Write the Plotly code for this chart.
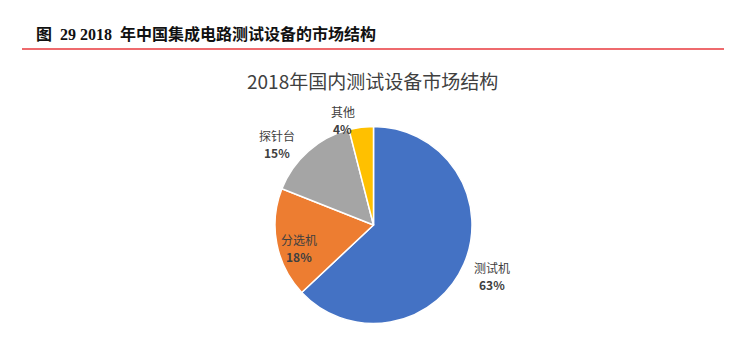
import math
import plotly.graph_objects as go

# Market share of test equipment in China, 2018
categories = ["测试机", "分选机", "探针台", "其他"]
shares = [63, 18, 15, 4]
colors = ["#4472C4", "#ED7D31", "#A5A5A5", "#FFC000"]

W, H = 732, 339
cx, cy, r = 373.5, 225.0, 98.5  # pie centre / radius in pixels (from top-left)

fig = go.Figure(go.Pie(
    labels=categories,
    values=shares,
    sort=False,
    direction="clockwise",
    rotation=0,
    marker=dict(colors=colors, line=dict(color="white", width=1.5)),
    textinfo="none",
    hoverinfo="label+percent",
    showlegend=False,
    domain=dict(x=[(cx - r) / W, (cx + r) / W],
                y=[(H - cy - r) / H, (H - cy + r) / H]),
))

# data labels placed around each slice's mid-angle
label_radius = [1.31, 0.79, 1.28, 1.11]
angle_shift = [0, -6.4, -8.6, -9.0]
line_gap = 8.7  # half distance between name and percentage lines
label_font = dict(family="Noto Sans CJK SC", size=12, color="#404040")
total = sum(shares)
start = 0.0
annotations = []
for i, (name, v) in enumerate(zip(categories, shares)):
    sweep = 360.0 * v / total
    mid = math.radians(start + sweep / 2 + angle_shift[i])
    start += sweep
    px = cx + r * label_radius[i] * math.sin(mid)
    py = cy - r * label_radius[i] * math.cos(mid)
    for text, dy in ((name, -line_gap), (f"<b>{v}%</b>", line_gap)):
        annotations.append(dict(
            x=px / W, y=1 - (py + dy) / H, xref="paper", yref="paper",
            text=text, showarrow=False, font=label_font,
            xanchor="center", yanchor="middle",
        ))

# chart title
annotations.append(dict(
    x=372 / W, y=1 - 80 / H, xref="paper", yref="paper",
    text="2018年国内测试设备市场结构", showarrow=False,
    font=dict(family="Noto Sans CJK SC", size=19, color="#404040"),
    xanchor="center", yanchor="middle",
))

# figure caption
annotations.append(dict(
    x=34 / W, y=1 - 34 / H, xref="paper", yref="paper",
    text="<b>图  29 2018  年中国集成电路测试设备的市场结构</b>", showarrow=False,
    font=dict(family="Liberation Serif, Noto Sans CJK SC", size=16, color="#111111"),
    xanchor="left", yanchor="middle",
))

fig.update_layout(
    width=W, height=H,
    margin=dict(l=0, r=0, t=0, b=0),
    paper_bgcolor="white",
    plot_bgcolor="white",
    annotations=annotations,
    shapes=[dict(type="line", xref="paper", yref="paper",
                 x0=22 / W, x1=724 / W, y0=1 - 49 / H, y1=1 - 49 / H,
                 line=dict(color="#E8383D", width=1.5))],
)

fig.write_html("out.html")
